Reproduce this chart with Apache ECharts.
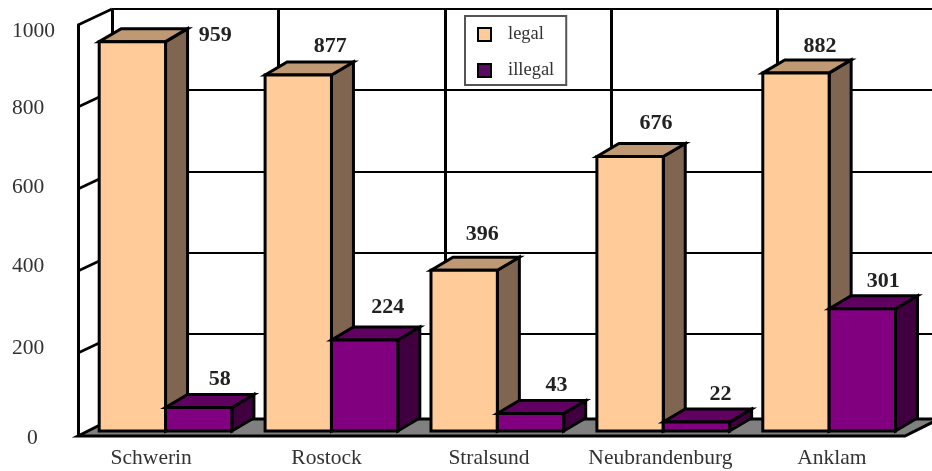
<!DOCTYPE html>
<html>
<head>
<meta charset="utf-8">
<style>html,body{margin:0;padding:0;background:#fff}#chart{width:932px;height:471px}</style>
<script src="https://cdn.jsdelivr.net/npm/echarts@6/dist/echarts.min.js"></script>
</head>
<body>
<div id="chart"></div>
<script>
var categories = ["Schwerin", "Rostock", "Stralsund", "Neubrandenburg", "Anklam"];
var legal = [959, 877, 396, 676, 882];
var illegal = [58, 224, 43, 22, 301];
var y_ticks = [0, 200, 400, 600, 800, 1000];

// the scan is not regular, these nudge the texts to where they sit in the picture
var cat_nudge = [-10, -1, -5, 0, 5];
var tick_nudge = {0: 3, 200: -5, 400: -5, 600: -2, 800: 1, 1000: 6};
var legal_label_nudge = [[83, -6], [32, -29], [18, -36], [26, -33], [24, -27]];
var illegal_label_nudge = [[21, -28], [23, -33], [26, -28], [24, -28], [21, -27]];

var SERIF = '"Liberation Serif", "Times New Roman", serif';
var WALL_DX = 34, WALL_DY = -17;
var BAR_DX = 22, BAR_DY = -13;
var LINE = 3;
// back wall runs past the edge of the window, so its axis stops short of 5 bands
var WALL_BANDS = 820 / 166.4;

var chart_obj = echarts.init(document.getElementById("chart"), null, {renderer: "canvas"});

function BarItem(colors, band_offset, label_nudge) {
    return function (params, api) {
        var i = api.value(0), val = api.value(1);
        var base = api.coord([i, 0]);
        var top = api.coord([i, val]);
        var w = api.size([1, 0])[0] * 0.4;
        var x0 = base[0] + band_offset * w, x1 = x0 + w;
        var y0 = base[1], y1 = top[1];
        var edge = {stroke: "#000", lineWidth: LINE, lineJoin: "miter"};
        return {
            type: "group",
            children: [
                {type: "polygon", shape: {points: [[x1, y0], [x1 + BAR_DX, y0 + BAR_DY], [x1 + BAR_DX, y1 + BAR_DY], [x1, y1]]},
                    style: Object.assign({fill: colors[2]}, edge)},
                {type: "polygon", shape: {points: [[x0, y1], [x0 + BAR_DX, y1 + BAR_DY], [x1 + BAR_DX, y1 + BAR_DY], [x1, y1]]},
                    style: Object.assign({fill: colors[1]}, edge)},
                {type: "rect", shape: {x: x0, y: y1, width: w, height: y0 - y1},
                    style: Object.assign({fill: colors[0]}, edge)},
                {type: "text", style: {
                    text: String(val), x: (x0 + x1) / 2 + label_nudge[i][0], y: y1 + label_nudge[i][1],
                    align: "center", verticalAlign: "middle",
                    font: "bold 22px " + SERIF, fill: "#222"
                }}
            ]
        };
    };
}

function WallTickItem(params, api) {
    var y = api.coord([0, api.value(1)])[1];
    var x = params.coordSys.x;
    return {type: "line", shape: {x1: x, y1: y, x2: x + WALL_DX, y2: y - 16},
        style: {stroke: "#000", lineWidth: 2.5}};
}

function FloorItem(params, api) {
    var cs = params.coordSys;
    var y = api.coord([0, 0])[1] + 1;
    var x0 = cs.x, x1 = cs.x + cs.width - 5;
    return {type: "polygon", shape: {points: [[x0, y], [x0 + WALL_DX, y + WALL_DY], [x1 + WALL_DX, y + WALL_DY], [x1, y]]},
        style: {fill: "#808080", stroke: "#000", lineWidth: 3}};
}

var cat_rich = {};
categories.forEach(function (c, i) {
    var n = cat_nudge[i];
    cat_rich["c" + i] = {padding: n < 0 ? [0, -2 * n, 0, 0] : [0, 0, 0, 2 * n]};
});
var tick_rich = {};
y_ticks.forEach(function (v) {
    var n = tick_nudge[v];
    tick_rich["t" + v] = {padding: [n > 0 ? 2 * n : 0, 0, n < 0 ? -2 * n : 0, v === 0 ? 15 : 0]};
});

var option = {
    animation: false,
    backgroundColor: "#fff",
    textStyle: {fontFamily: SERIF},
    legend: {
        left: 465, top: 16, orient: "vertical",
        padding: [9, 12, 5, 12], itemGap: 17,
        itemWidth: 13, itemHeight: 13, icon: "rect",
        backgroundColor: "#fff", borderColor: "#555", borderWidth: 2,
        selectedMode: false,
        textStyle: {fontFamily: SERIF, fontSize: 18.5, color: "#333", padding: [4, 0, 0, 12]},
        data: [
            {name: "legal", itemStyle: {color: "#FFCC99", borderColor: "#000", borderWidth: 2}},
            {name: "illegal", itemStyle: {color: "#5A0A62", borderColor: "#000", borderWidth: 2}}
        ]
    },
    grid: [
        {left: 78, top: 25, width: 832, height: 410},    // front plane, carries the labels
        {left: 112, top: 9, right: 0, height: 406},      // back wall
        {left: 82.6, top: 25, width: 829.5, height: 406} // bars sit a little inside the floor
    ],
    xAxis: [
        {
            type: "category", gridIndex: 0, data: categories,
            axisLine: {show: false}, axisTick: {show: false},
            axisLabel: {
                interval: 0, margin: 12, fontFamily: SERIF, fontSize: 21.5, color: "#333",
                rich: cat_rich,
                formatter: function (name) {
                    return "{c" + categories.indexOf(name) + "|" + name + "}";
                }
            }
        },
        {
            type: "value", gridIndex: 1, min: 0, max: WALL_BANDS, interval: 1,
            axisLine: {show: false}, axisTick: {show: false}, axisLabel: {show: false},
            splitLine: {show: true, showMaxLine: false, lineStyle: {color: "#000", width: 3}}
        },
        {type: "category", gridIndex: 2, data: categories, show: false}
    ],
    yAxis: [
        {
            type: "value", gridIndex: 0, min: 0, max: 1000, interval: 200,
            axisLine: {show: true, lineStyle: {color: "#000", width: 3}},
            axisTick: {show: false}, splitLine: {show: false},
            axisLabel: {
                align: "left", margin: 66, fontFamily: SERIF, fontSize: 21.5, color: "#333",
                rich: tick_rich,
                formatter: function (v) {
                    return "{t" + v + "|" + v + "}";
                }
            }
        },
        {
            type: "value", gridIndex: 1, min: 0, max: 1000, interval: 200,
            axisLine: {show: false}, axisTick: {show: false}, axisLabel: {show: false},
            splitLine: {show: true, showMinLine: false, lineStyle: {color: "#000", width: 2}}
        },
        {type: "value", gridIndex: 2, min: 0, max: 1000, interval: 200, show: false}
    ],
    series: [
        {
            type: "custom", name: "floor", xAxisIndex: 0, yAxisIndex: 0, z: 2, silent: true,
            renderItem: FloorItem, data: [[0, 0]]
        },
        {
            type: "custom", name: "wall", xAxisIndex: 0, yAxisIndex: 0, z: 2, silent: true,
            renderItem: WallTickItem,
            data: y_ticks.slice(1).map(function (v) { return [0, v]; })
        },
        {
            type: "custom", name: "legal", xAxisIndex: 2, yAxisIndex: 2, z: 3,
            itemStyle: {color: "#FFCC99"},
            renderItem: BarItem(["#FFCC99", "#BF9973", "#806650"], -1, legal_label_nudge),
            encode: {x: 0, y: 1},
            data: legal.map(function (v, i) { return [i, v]; })
        },
        {
            type: "custom", name: "illegal", xAxisIndex: 2, yAxisIndex: 2, z: 3,
            itemStyle: {color: "#5A0A62"},
            renderItem: BarItem(["#800080", "#600060", "#400040"], 0, illegal_label_nudge),
            encode: {x: 0, y: 1},
            data: illegal.map(function (v, i) { return [i, v]; })
        }
    ]
};
chart_obj.setOption(option);
</script>
</body>
</html>
